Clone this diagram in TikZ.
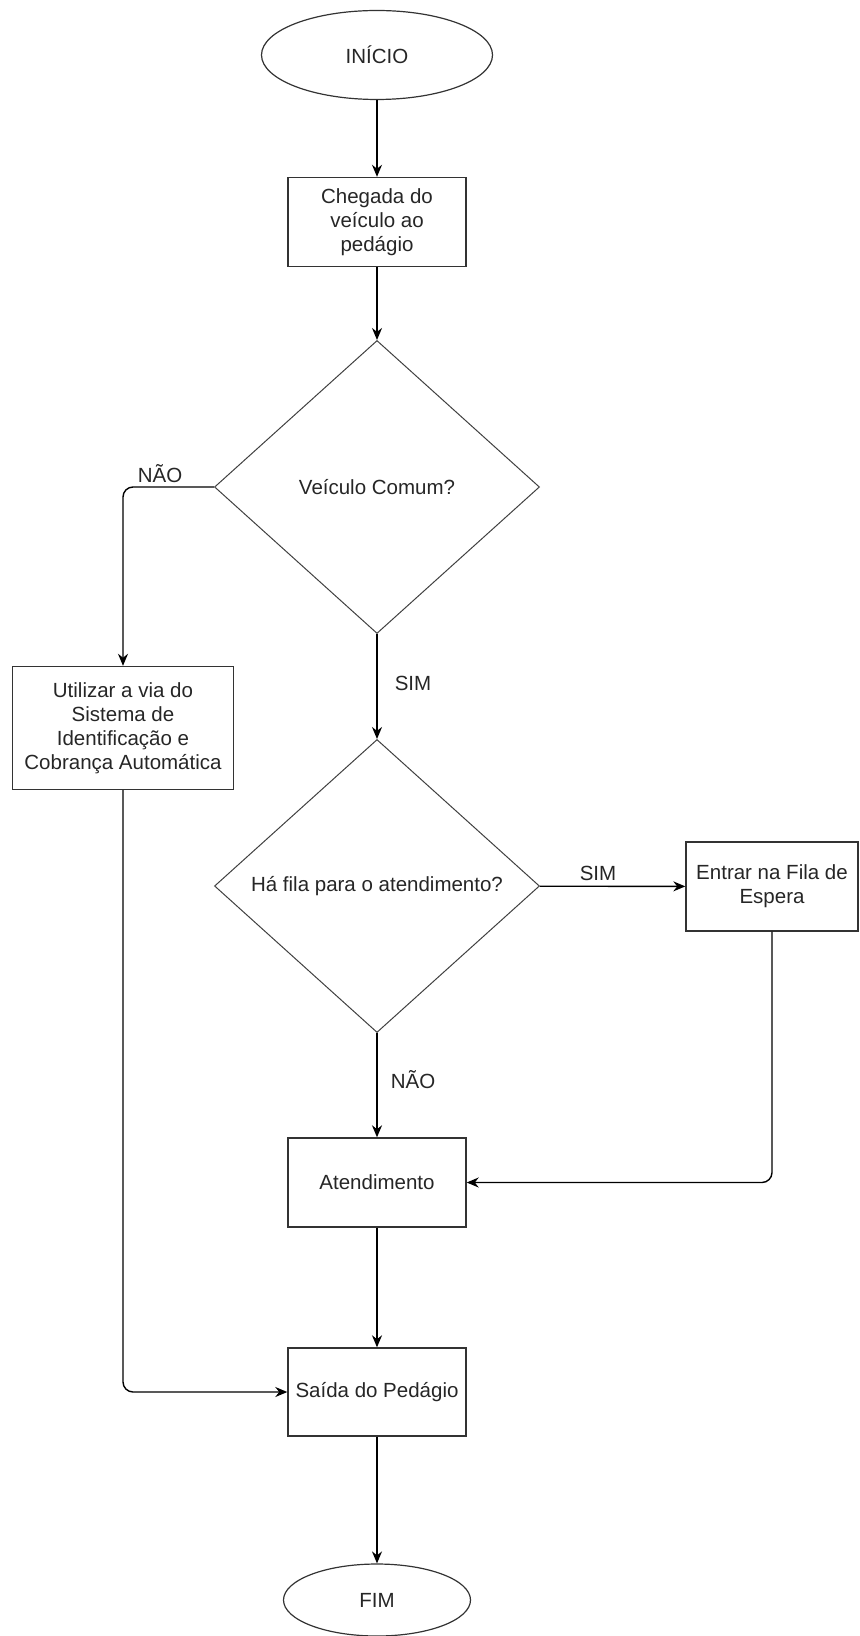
\documentclass[tikz,border=0pt]{standalone}
\usepackage{fontspec}
\setmainfont{Liberation Sans}
\usetikzlibrary{shapes.geometric,arrows.meta}

\begin{document}
\begin{tikzpicture}[x=0.5pt,y=-0.5pt,
  every node/.style={font=\fontsize{10.25}{12}\selectfont,text=black!85},
  terminal/.style={draw=black!80,ellipse,line width=0.6pt,inner sep=0pt},
  processo/.style={draw=black!80,rectangle,line width=0.7pt,inner sep=0pt,align=center,minimum width=89pt,minimum height=44.5pt},
  decisao/.style={draw=black!75,diamond,line width=0.5pt,inner sep=0pt,minimum width=162.5pt,minimum height=146.5pt},
  seta/.style={draw=black,line width=0.7pt,-{Stealth[length=6pt,width=5pt]}},
  rotulo/.style={inner sep=1pt}]
	\useasboundingbox (0,0) rectangle (859,1636);
	% blocos
	\node[terminal,minimum width=115.5pt,minimum height=44.5pt] (inicio) at (377,55) {INÍCIO};
	\node[processo] (chegada) at (377,222) {Chegada do\\veículo ao\\pedágio};
	\node[decisao] (comum) at (377,487) {Veículo Comum?};
	\node[processo,minimum width=110.5pt,minimum height=61.5pt] (utilizar) at (123,728) {Utilizar a via do\\Sistema de\\Identificação e\\Cobrança Automática};
	\node[decisao] (fila) at (377,886) {Há fila para o atendimento?};
	\node[processo,minimum width=86pt] (entrar) at (772,886.5) {Entrar na Fila de\\Espera};
	\node[processo] (atend) at (377,1182.5) {Atendimento};
	\node[processo,minimum height=44pt] (saida) at (377,1392) {Saída do Pedágio};
	\node[terminal,minimum width=93.5pt,minimum height=36pt] (fim) at (377,1600) {FIM};
	% ligacoes
	\draw[seta] (inicio) -- (chegada);
	\draw[seta] (chegada) -- (comum);
	\draw[seta,rounded corners=5pt] (comum.west) -| (utilizar.north);
	\draw[seta] (comum) -- (fila);
	\draw[seta] (fila) -- (entrar);
	\draw[seta] (fila) -- (atend);
	\draw[seta,rounded corners=5pt] (entrar.south) |- (atend.east);
	\draw[seta] (atend) -- (saida);
	\draw[seta,rounded corners=5pt] (utilizar.south) |- (saida.west);
	\draw[seta] (saida) -- (fim);
	% rotulos
	\node[rotulo] (nao1) at (160,474) {NÃO};
	\node[rotulo] (sim1) at (413,683) {SIM};
	\node[rotulo] (sim2) at (598,873) {SIM};
	\node[rotulo] (nao2) at (413,1080) {NÃO};
\end{tikzpicture}
\end{document}
